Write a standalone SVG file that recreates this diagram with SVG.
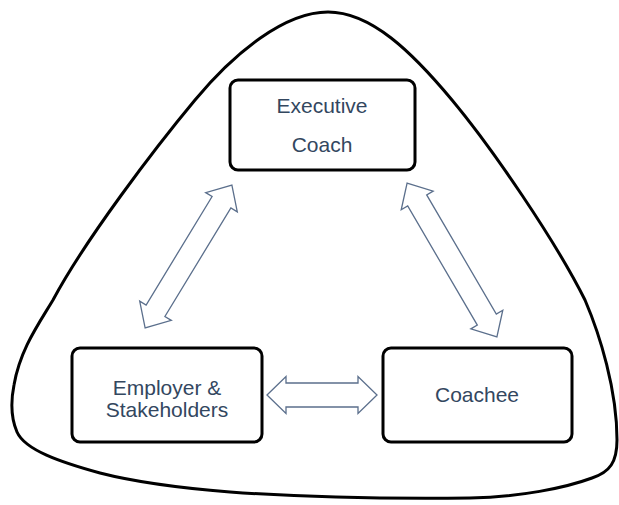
<svg xmlns="http://www.w3.org/2000/svg" width="619" height="505" viewBox="0 0 619 505">
<style>
.node rect{fill:#fff;stroke:#000;stroke-width:3}
.lbl{font-family:"Liberation Sans",Arial,sans-serif;font-size:21px;fill:#33475f;text-anchor:middle}
.arr{fill:#fff;stroke:#5b6f8c;stroke-width:1.3;stroke-linejoin:miter}
.blob{fill:#fff;stroke:#000;stroke-width:3}
</style>
<rect width="619" height="505" fill="#fff"/>
<path class="blob" d="M328,12 C371,12 412,52 452,100 C492,148 555,240 585,300 C600,335 617,390 617,440 C617,462 610,472 592,478 C565,488 520,497 470,498 C380,499 300,497 230,492 C180,488 135,482 100,473 C60,462 25,450 17,432 C11,418 11,400 14,385 C20,350 38,325 53,300 C85,240 155,148 195,100 C235,52 285,12 328,12 Z"/>
<g id="connectors">
<polygon class="arr" transform="translate(188.5,256.5) rotate(-58.7)" points="-83.5,0 -63.5,-18.5 -63.5,-11 63.5,-11 63.5,-18.5 83.5,0 63.5,18.5 63.5,11 -63.5,11 -63.5,18.5"/>
<polygon class="arr" transform="translate(452,260) rotate(59.7)" points="-89,0 -69,-18.5 -69,-11 69,-11 69,-18.5 89,0 69,18.5 69,11 -69,11 -69,18.5"/>
<polygon class="arr" transform="translate(322,395)" points="-55,0 -36,-18.5 -36,-12 36,-12 36,-18.5 55,0 36,18.5 36,12 -36,12 -36,18.5"/>
</g>
<g id="executive-coach" class="node">
<rect x="230" y="80" width="185" height="90" rx="8"/>
<text class="lbl" x="322" y="113">Executive</text>
<text class="lbl" x="322" y="152">Coach</text>
</g>
<g id="employer" class="node">
<rect x="72" y="348" width="190" height="94" rx="8"/>
<text class="lbl" x="167" y="395">Employer &amp;</text>
<text class="lbl" x="167" y="417">Stakeholders</text>
</g>
<g id="coachee" class="node">
<rect x="383" y="348" width="189" height="94" rx="8"/>
<text class="lbl" x="477" y="402">Coachee</text>
</g>
</svg>
